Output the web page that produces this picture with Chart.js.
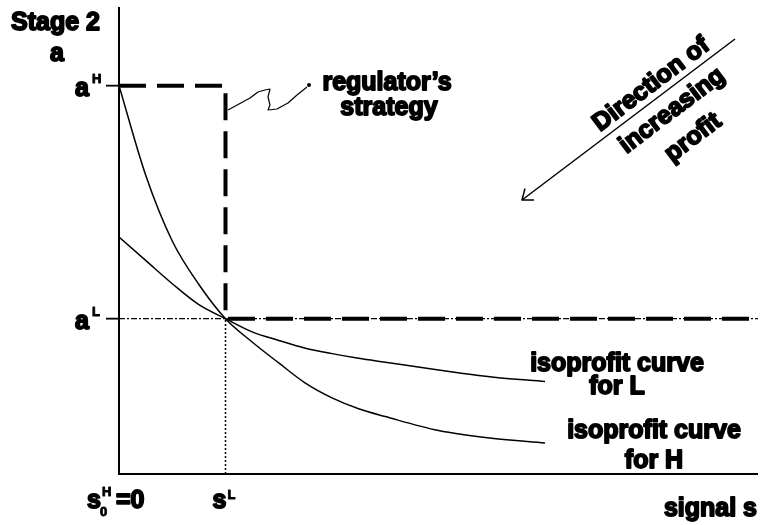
<!DOCTYPE html>
<html>
<head>
<meta charset="utf-8">
<script src="https://cdn.jsdelivr.net/npm/chart.js@4.4.1/dist/chart.umd.min.js"></script>
<style>
  html, body { margin: 0; padding: 0; background: #fff; }
  #wrap { width: 764px; height: 525px; }
</style>
</head>
<body>
<div id="wrap"><canvas id="chart"></canvas></div>
<script>
// --- DATA ---
const signalValues = [0, 0.25, 0.5, 0.75, 1, 1.25, 1.5, 1.75, 2, 2.25, 2.5, 3, 3.5, 4];
const isoprofitH = [5, 3.85, 3.0, 2.44, 2, 1.7, 1.43, 1.17, 0.98, 0.84, 0.74, 0.56, 0.46, 0.4];
const isoprofitL = [3.05, 2.75, 2.45, 2.18, 2, 1.83, 1.72, 1.62, 1.55, 1.49, 1.44, 1.34, 1.25, 1.19];

const aHigh = 5, aLow = 2, sLow = 1;
const sMax = 6, aMax = 6;

const strategyX = [0, sLow, sLow, sMax];
const strategyY = [aHigh, aHigh, aLow, aLow];

const yTickValues = [aHigh, aLow];
const yTickLabels = [['a', 'H'], ['a', 'L']];
const xTickValues = [0, sLow];

// --- HELPERS ---
const FONT = '"Liberation Sans", Arial, sans-serif';

function toPoints(xs, ys) {
    return xs.map((x, i) => ({ x: x, y: ys[i] }));
}

// bold text with a thin outline, like the heavy print of the original
function ink(ctx, str, x, y, size, align) {
    ctx.font = 'bold ' + size + 'px ' + FONT;
    ctx.textAlign = align || 'left';
    ctx.textBaseline = 'alphabetic';
    ctx.fillStyle = '#000';
    ctx.strokeStyle = '#000';
    ctx.lineJoin = 'round';
    ctx.lineWidth = size > 16 ? 1.8 : 0.9;
    ctx.strokeText(str, x, y);
    ctx.fillText(str, x, y);
}

function line(ctx, pts, width) {
    ctx.beginPath();
    ctx.moveTo(pts[0][0], pts[0][1]);
    for (let i = 1; i < pts.length; i++) ctx.lineTo(pts[i][0], pts[i][1]);
    ctx.lineWidth = width;
    ctx.strokeStyle = '#000';
    ctx.setLineDash([]);
    ctx.stroke();
}

// axes, tick labels and annotations
const diagramPlugin = {
    id: 'diagram',
    afterDraw(chart) {
        const ctx = chart.ctx;
        const area = chart.chartArea;
        const xs = chart.scales.x, ys = chart.scales.y;
        ctx.save();
        ctx.lineCap = 'butt';

        // axes
        line(ctx, [[area.left, area.top - 1], [area.left, area.bottom], [area.right, area.bottom]], 2);

        // small tick stubs + labels on the a axis
        yTickValues.forEach((v, i) => {
            const py = ys.getPixelForValue(v);
            line(ctx, [[area.left - 13, py], [area.left, py]], 1.8);
            ink(ctx, yTickLabels[i][0], area.left - 44, py + 10, 25);
            ink(ctx, yTickLabels[i][1], area.left - 27, py - 3, 13);
        });

        // signal axis labels
        const x0 = xs.getPixelForValue(xTickValues[0]);
        const x1 = xs.getPixelForValue(xTickValues[1]);
        const by = area.bottom + 34;
        ink(ctx, 's', x0 - 32, by, 25);
        ink(ctx, '0', x0 - 19, by + 8, 13);
        ink(ctx, 'H', x0 - 17, by - 12, 13);
        ink(ctx, '=0', x0 - 3, by, 25);
        ink(ctx, 's', x1 - 13, by, 25);
        ink(ctx, 'L', x1 + 2, by - 9, 13);

        // axis titles
        ink(ctx, 'Stage 2', 11, 30, 25);
        ink(ctx, 'a', 57, 61, 25, 'center');
        ink(ctx, 'signal s', 757, 516, 25, 'right');

        // curve labels
        ink(ctx, 'isoprofit curve', 617, 371, 25, 'center');
        ink(ctx, 'for L', 617, 394, 25, 'center');
        ink(ctx, 'isoprofit curve', 654, 438, 25, 'center');
        ink(ctx, 'for H', 654, 468, 25, 'center');

        // regulator's strategy note with its squiggle
        ink(ctx, 'regulator\u2019s', 387, 90, 25, 'center');
        ink(ctx, 'strategy', 389, 115, 25, 'center');
        line(ctx, [[228, 110], [250, 98], [258, 92], [265, 90], [270, 89], [268, 97],
                   [270, 105], [268, 110], [277, 109], [288, 103], [297, 95], [307, 87]], 1.2);
        ctx.beginPath();
        ctx.arc(309, 85, 2, 0, Math.PI * 2);
        ctx.fill();

        // direction of increasing profit
        line(ctx, [[735, 39], [522, 200]], 1.5);
        line(ctx, [[534, 200], [522, 200], [525, 188.5]], 1.5);
        const ang = -Math.atan2(161, 213);
        [['Direction of', 650, 83], ['increasing', 671, 109], ['profit', 692, 136]].forEach(t => {
            ctx.save();
            ctx.translate(t[1], t[2]);
            ctx.rotate(ang);
            ink(ctx, t[0], 0, 9, 25, 'center');
            ctx.restore();
        });

        ctx.restore();
    }
};

// --- CHART ---
const ctx = document.getElementById('chart').getContext('2d');
new Chart(ctx, {
    type: 'scatter',
    data: {
        datasets: [
            {
                label: 'a L reference',
                data: [{ x: 0, y: aLow }, { x: sMax, y: aLow }],
                showLine: true,
                borderColor: '#000',
                borderWidth: 1.4,
                borderDash: [6, 2, 2, 2],
                pointRadius: 0
            },
            {
                label: 's L reference',
                data: [{ x: sLow, y: 0 }, { x: sLow, y: aLow }],
                showLine: true,
                borderColor: '#000',
                borderWidth: 1.5,
                borderDash: [2, 2],
                pointRadius: 0
            },
            {
                label: "regulator's strategy",
                data: toPoints(strategyX, strategyY),
                showLine: true,
                borderColor: '#000',
                borderWidth: 4,
                borderDash: [27, 11],
                pointRadius: 0
            },
            {
                label: 'isoprofit curve for H',
                data: toPoints(signalValues, isoprofitH),
                showLine: true,
                borderColor: '#000',
                borderWidth: 1.5,
                cubicInterpolationMode: 'monotone',
                pointRadius: 0
            },
            {
                label: 'isoprofit curve for L',
                data: toPoints(signalValues, isoprofitL),
                showLine: true,
                borderColor: '#000',
                borderWidth: 1.5,
                cubicInterpolationMode: 'monotone',
                pointRadius: 0
            }
        ]
    },
    options: {
        responsive: true,
        maintainAspectRatio: false,
        animation: false,
        layout: { padding: { left: 119, top: 8, right: 6, bottom: 51 } },
        plugins: {
            legend: { display: false },
            tooltip: { enabled: false }
        },
        scales: {
            x: { type: 'linear', min: 0, max: sMax, display: false },
            y: { type: 'linear', min: 0, max: aMax, display: false }
        }
    },
    plugins: [diagramPlugin]
});
</script>
</body>
</html>
